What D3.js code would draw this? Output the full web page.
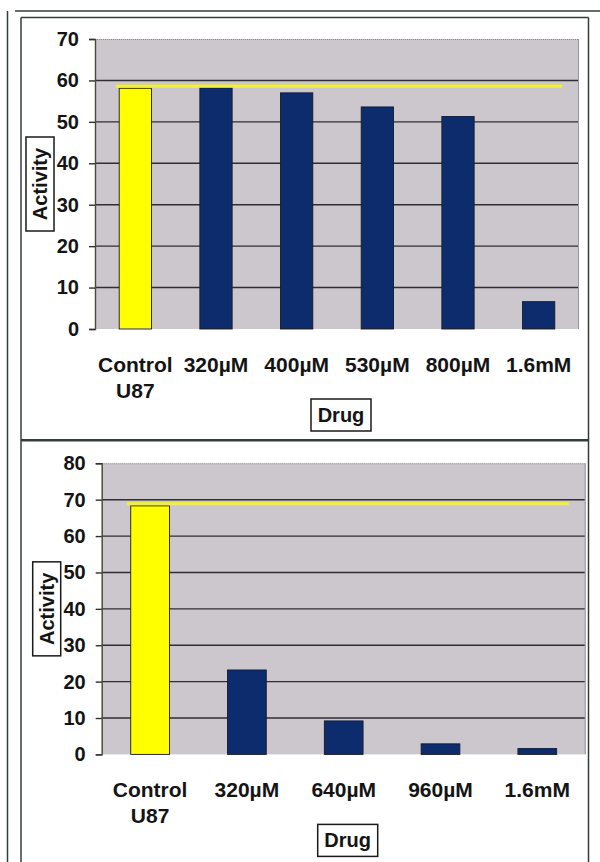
<!DOCTYPE html>
<html>
<head>
<meta charset="utf-8">
<script src="https://cdn.jsdelivr.net/npm/d3@7"></script>
<style>
  html, body { margin: 0; padding: 0; background: #ffffff; }
  svg { display: block; }
  text { font-family: "Liberation Sans", Arial, sans-serif; font-weight: bold; fill: #141414; }
</style>
</head>
<body>
<script>
// ---------- DATA ----------
const topCategories = [["Control", "U87"], ["320µM"], ["400µM"], ["530µM"], ["800µM"], ["1.6mM"]];
const topValues = [58.1, 58.2, 57.0, 53.6, 51.3, 6.6];
const topReference = 58.6;
const topTicks = [0, 10, 20, 30, 40, 50, 60, 70];

const bottomCategories = [["Control", "U87"], ["320µM"], ["640µM"], ["960µM"], ["1.6mM"]];
const bottomValues = [68.3, 23.2, 9.2, 2.9, 1.6];
const bottomReference = 68.9;
const bottomTicks = [0, 10, 20, 30, 40, 50, 60, 70, 80];

const xTitle = "Drug";
const yTitle = "Activity";

// ---------- DRAW ----------
const W = 600, H = 862;
const svg = d3.select("body").append("svg").attr("width", W).attr("height", H);

// page frames
const frame = svg.append("g").attr("stroke", "#363c3c").attr("fill", "none");
frame.append("line").attr("x1", 7.5).attr("x2", 7.5).attr("y1", 11).attr("y2", H).attr("stroke-width", 1.5);
frame.append("line").attr("x1", 15).attr("x2", W).attr("y1", 11).attr("y2", 11).attr("stroke-width", 1.5);
frame.append("line").attr("x1", 21).attr("x2", 21).attr("y1", 17.5).attr("y2", H).attr("stroke-width", 1.5);
frame.append("line").attr("x1", 588.5).attr("x2", 588.5).attr("y1", 17.5).attr("y2", H).attr("stroke-width", 1.5);
frame.append("line").attr("x1", 21).attr("x2", 588.5).attr("y1", 17.5).attr("y2", 17.5).attr("stroke-width", 1.5);
frame.append("line").attr("x1", 21).attr("x2", 588.5).attr("y1", 440.3).attr("y2", 440.3).attr("stroke-width", 2.5);

function drawPanel(cfg) {
  const { cats, vals, ref, ticks, x0, x1, yTop, yBot } = cfg;
  const keys = cats.map(c => c.join(" "));
  const x = d3.scaleBand().domain(keys).range([x0, x1]).paddingInner(0.6).paddingOuter(0.3);
  const y = d3.scaleLinear().domain([0, d3.max(ticks)]).range([yBot, yTop]);
  const g = svg.append("g");

  // plot background
  g.append("rect").attr("x", x0).attr("y", yTop).attr("width", x1 - x0).attr("height", yBot - yTop)
    .attr("fill", "#cbc7cd");
  g.append("line").attr("x1", x0).attr("x2", x1).attr("y1", yTop + 0.5).attr("y2", yTop + 0.5)
    .attr("stroke", "#8a8690").attr("stroke-dasharray", "1,1");
  g.append("line").attr("x1", x1 - 0.5).attr("x2", x1 - 0.5).attr("y1", yTop).attr("y2", yBot)
    .attr("stroke", "#9a96a0");

  // gridlines
  g.append("g").selectAll("line").data(ticks.filter(t => t > 0 && t < d3.max(ticks))).join("line")
    .attr("x1", x0).attr("x2", x1 - 1)
    .attr("y1", d => y(d)).attr("y2", d => y(d))
    .attr("stroke", "#2e2e34").attr("stroke-width", 1.4);

  // y axis
  const axis = g.append("g").attr("transform", `translate(${x0},0)`)
    .call(d3.axisLeft(y).tickValues(ticks).tickSize(6).tickPadding(10).tickFormat(d3.format("d")));
  axis.select(".domain").attr("stroke", "#4a4a30").attr("stroke-width", 1.4);
  axis.selectAll(".tick line").attr("stroke", "#2e2e34").attr("stroke-width", 1.4);
  axis.selectAll(".tick text").attr("font-size", 20).attr("font-weight", "bold")
    .attr("font-family", "'Liberation Sans', Arial, sans-serif").attr("fill", "#141414");

  // bars
  g.append("g").selectAll("rect").data(vals).join("rect")
    .attr("x", (d, i) => x(keys[i]))
    .attr("y", d => y(d))
    .attr("width", x.bandwidth())
    .attr("height", d => y(0) - y(d))
    .attr("fill", (d, i) => i === 0 ? "#ffff00" : "#0c2c6e")
    .attr("stroke", "#1a1a22").attr("stroke-width", 0.9);

  // reference line
  g.append("line")
    .attr("x1", x(keys[0]) - (x.step() * 0.04)).attr("x2", x1 - (x1 - x0) * 0.035)
    .attr("y1", y(ref)).attr("y2", y(ref))
    .attr("stroke", "#f4f22a").attr("stroke-width", 3);

  // x category labels
  const lab = g.append("g").selectAll("text").data(cats).join("text")
    .attr("x", (d, i) => x(keys[i]) + x.bandwidth() / 2)
    .attr("y", yBot + 43)
    .attr("text-anchor", "middle").attr("font-size", 21);
  lab.selectAll("tspan").data(d => d).join("tspan")
    .attr("x", function () { return d3.select(this.parentNode).attr("x"); })
    .attr("dy", (d, i) => i === 0 ? 0 : 25.5)
    .text(d => d);

  // x title box
  const cx = (x0 + x1) / 2 + 4;
  g.append("rect").attr("x", cx - 30).attr("y", yBot + 70).attr("width", 60).attr("height", 32)
    .attr("fill", "#ffffff").attr("stroke", "#1a1a1a").attr("stroke-width", 1.5);
  g.append("text").attr("x", cx).attr("y", yBot + 93).attr("text-anchor", "middle")
    .attr("font-size", 20).text(xTitle);

  // y title box
  const cy = (yTop + yBot) / 2;
  g.append("rect").attr("x", x0 - 69).attr("y", cy - 47).attr("width", 28).attr("height", 94)
    .attr("fill", "#ffffff").attr("stroke", "#1a1a1a").attr("stroke-width", 1.5);
  g.append("text").attr("transform", `translate(${x0 - 48},${cy}) rotate(-90)`)
    .attr("text-anchor", "middle").attr("font-size", 20).text(yTitle);
}

drawPanel({ cats: topCategories, vals: topValues, ref: topReference, ticks: topTicks,
  x0: 95, x1: 579, yTop: 39, yBot: 329 });
drawPanel({ cats: bottomCategories, vals: bottomValues, ref: bottomReference, ticks: bottomTicks,
  x0: 101.7, x1: 585.7, yTop: 463.3, yBot: 754.4 });
</script>
</body>
</html>
